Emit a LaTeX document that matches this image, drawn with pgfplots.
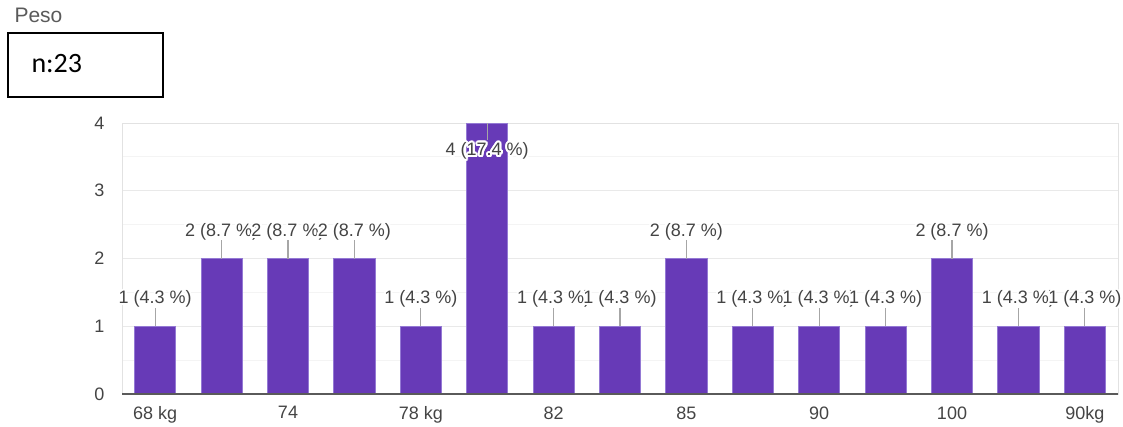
\documentclass[border=0pt]{standalone}
\usepackage{pgfplots}
\pgfplotsset{compat=1.18}
\usepackage{pgfplotstable}
\usepackage{fontspec}
\setmainfont{Liberation Sans}
\newfontfamily\calibri{Carlito}
\usepackage{contour}
\contourlength{2pt}

\definecolor{barfill}{HTML}{673AB7}
\definecolor{baredge}{HTML}{9479D4}
\definecolor{txt}{HTML}{444444}
\definecolor{titlegray}{HTML}{5A5A5A}
\definecolor{gridmaj}{HTML}{E9E9E9}
\definecolor{gridmin}{HTML}{F4F4F4}
\definecolor{frame}{HTML}{E2E2E2}
\definecolor{axisdark}{HTML}{5A5A5A}
\definecolor{leader}{HTML}{A6A6A6}

% answers per weight category
\pgfplotstableread[col sep=comma]{
x,y,ep,em
0,1,0.27,0
1,2,0.27,0
2,2,0.27,0
3,2,0.27,0
4,1,0.27,0
5,4,0,0.25
6,1,0.27,0
7,1,0.27,0
8,2,0.27,0
9,1,0.27,0
10,1,0.27,0
11,1,0.27,0
12,2,0.27,0
13,1,0.27,0
14,1,0.27,0
}\counts

% labels above the bars
\pgfplotstableread[col sep=comma]{
x,y,lab
0,1,1 (4.3 \%)
1,2,2 (8.7 \%)
2,2,2 (8.7 \%)
3,2,2 (8.7 \%)
4,1,1 (4.3 \%)
6,1,1 (4.3 \%)
7,1,1 (4.3 \%)
8,2,2 (8.7 \%)
9,1,1 (4.3 \%)
10,1,1 (4.3 \%)
11,1,1 (4.3 \%)
12,2,2 (8.7 \%)
13,1,1 (4.3 \%)
14,1,1 (4.3 \%)
}\labup

% label inside the tallest bar
\pgfplotstableread[col sep=comma]{
x,y,lab
5,4,4 (17.4 \%)
}\labin

\begin{document}
\begin{tikzpicture}
\useasboundingbox (0pt,0pt) rectangle (1123pt,-427pt);

\node[anchor=base west, text=titlegray, font=\fontsize{21}{24}\selectfont] at (11pt,-23pt) {Peso};
\draw[line width=1.6pt] (8pt,-33pt) rectangle (163pt,-97pt);
\node[anchor=base west, font=\calibri\fontsize{28}{30}\selectfont] at (28pt,-73pt) {n:23};

\begin{axis}[
  at={(122pt,-394pt)}, anchor=south west,
  scale only axis, width=996pt, height=271pt,
  xmin=-0.5, xmax=14.5, ymin=0, ymax=4,
  ytick={0,1,2,3,4}, minor y tick num=1,
  ymajorgrids, yminorgrids,
  major grid style={draw=gridmaj, line width=1pt},
  minor grid style={draw=gridmin, line width=1pt},
  xtick={0,2,4,6,8,10,12,14},
  xticklabels={68 kg,74,78 kg,82,85,90,100,90kg},
  major tick length=0pt, minor tick length=0pt,
  axis line style={draw=frame, line width=1pt},
  /pgf/number format/assume math mode=true,
  tick label style={font=\fontsize{18}{21}\selectfont, text=txt},
  xticklabel style={yshift=-9pt},
  yticklabel style={xshift=-14pt},
  clip=false,
]
\addplot[ybar, bar width=0.62, fill=barfill, draw=baredge, line width=0.7pt]
  table[x=x, y=y] {\counts};
\addplot[draw=none, mark=none,
  error bars/.cd, y dir=both, y explicit, error mark=none,
  error bar style={draw=leader, line width=1.3pt}]
  table[x=x, y=y, y error plus=ep, y error minus=em] {\counts};
\addplot[draw=none, mark=none, point meta=explicit symbolic,
  nodes near coords={\contour{white}{\pgfplotspointmeta}},
  nodes near coords style={anchor=center, inner sep=0pt, yshift=26pt,
    text=txt, font=\fontsize{18}{21}\selectfont}]
  table[x=x, y=y, meta=lab] {\labup};
\addplot[draw=none, mark=none, point meta=explicit symbolic,
  nodes near coords={\contour{white}{\pgfplotspointmeta}},
  nodes near coords style={anchor=center, inner sep=0pt, yshift=-29pt,
    text=txt, font=\fontsize{18}{21}\selectfont}]
  table[x=x, y=y, meta=lab] {\labin};
\addplot[axisdark, line width=1.5pt, mark=none] coordinates {(-0.5,0) (14.5,0)};
\end{axis}
\end{tikzpicture}
\end{document}
